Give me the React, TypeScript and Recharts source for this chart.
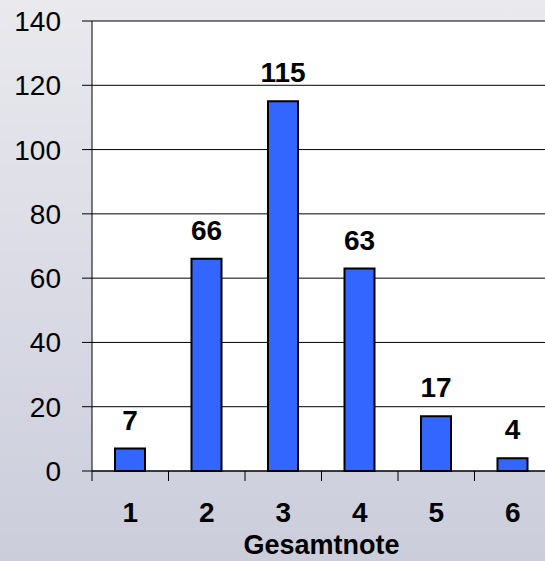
import React from 'react';
import { BarChart, Bar, XAxis, YAxis, CartesianGrid, LabelList } from 'recharts';

const grades = ['1', '2', '3', '4', '5', '6'];
const counts = [7, 66, 115, 63, 17, 4];
const yTicks = [0, 20, 40, 60, 80, 100, 120, 140];

const data = grades.map((g, i) => ({ grade: g, count: counts[i] }));

const FONT = '"Liberation Sans", Arial, sans-serif';

// Excel style: tick marks sit between categories, labels at the centre
const GradeTick = (props: any) => {
  const { x, y, payload, index } = props;
  const half = payload && payload.offset > 0 ? payload.offset : 38.25;
  return (
    <g>
      <line x1={x - half} y1={y - 10} x2={x - half} y2={y} stroke="#000" />
      {index === grades.length - 1 && (
        <line x1={x + half} y1={y - 10} x2={x + half} y2={y} stroke="#000" />
      )}
      <text x={x} y={y + 41} textAnchor="middle" fontFamily={FONT} fontSize={28} fontWeight="bold" fill="#000">
        {payload.value}
      </text>
    </g>
  );
};

const App = () => {
  return (
    <div
      style={{
        position: 'fixed',
        left: 0,
        top: 0,
        width: 545,
        height: 561,
        overflow: 'hidden',
        background: 'linear-gradient(to bottom, #e9e9ee, #cbcddb)',
      }}
    >
      <BarChart width={551} height={561} data={data} margin={{ top: 21, right: 0, left: 0, bottom: 0 }}>
        <CartesianGrid vertical={false} stroke="#000" fill="#fff" />
        <XAxis
          dataKey="grade"
          height={90}
          tickSize={10}
          tickMargin={0}
          tickLine={false}
          stroke="#000"
          interval={0}
          tick={<GradeTick />}
          label={{
            value: 'Gesamtnote',
            position: 'insideBottom',
            offset: 7,
            fontFamily: FONT,
            fontSize: 27,
            fontWeight: 'bold',
            fill: '#000',
          }}
        />
        <YAxis
          width={92}
          domain={[0, 140]}
          ticks={yTicks}
          tickSize={10}
          tickMargin={21}
          stroke="#000"
          tick={{ fontFamily: FONT, fontSize: 28, fill: '#000' }}
        />
        <Bar dataKey="count" fill="#3366ff" stroke="#000" strokeWidth={2} barSize={30} isAnimationActive={false}>
          <LabelList
            dataKey="count"
            position="top"
            offset={19}
            fontFamily={FONT}
            fontSize={28}
            fontWeight="bold"
            fill="#000"
          />
        </Bar>
      </BarChart>
    </div>
  );
};

export default App;
